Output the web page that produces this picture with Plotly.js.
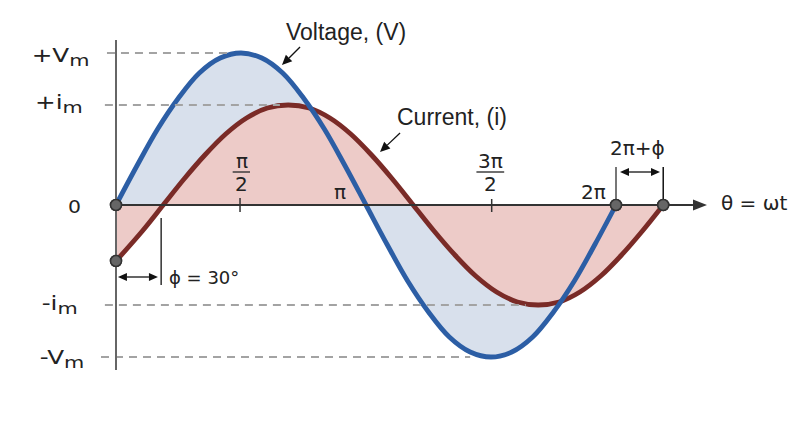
<!DOCTYPE html>
<html><head><meta charset="utf-8">
<script src="https://cdn.plot.ly/plotly-3.0.1.min.js"></script>
<style>html,body{margin:0;padding:0;background:#fff}#chart{width:809px;height:430px}</style>
</head><body><div id="chart"></div>
<script>
// angles in degrees (theta = omega t)
const voltageTheta = [0,15,30,45,60,75,90,105,120,135,150,165,180,195,210,225,240,255,270,285,300,315,330,345,360];
const voltageValues = [0,0.39,0.76,1.07,1.32,1.47,1.52,1.47,1.32,1.07,0.76,0.39,0,-0.39,-0.76,-1.07,-1.32,-1.47,-1.52,-1.47,-1.32,-1.07,-0.76,-0.39,0];
const currentTheta = [0,19,34,49,64,79,94,109,124,139,154,169,184,199,214,229,244,259,274,289,304,319,334,349,364,379,394];
const currentValues = [-0.56,-0.26,0,0.26,0.5,0.71,0.87,0.97,1.0,0.97,0.87,0.71,0.5,0.26,0,-0.26,-0.5,-0.71,-0.87,-0.97,-1.0,-0.97,-0.87,-0.71,-0.5,-0.26,0];
const pointTheta = [0,0,360,394];
const pointValues = [0,-0.56,0,0];
const levelLabels = ['+V<sub><span style="font-size:16px">m</span></sub>','+i<sub><span style="font-size:16px">m</span></sub>','0','-i<sub><span style="font-size:16px">m</span></sub>','-V<sub><span style="font-size:16px">m</span></sub>'];
const Vm = 1.52, Im = 1.0, phaseEnd = 394, phiMark = 32.5;

const XR = [-83.52,498.96], YR = [-2.25,2.05];
const SX = 809/(XR[1]-XR[0]), SY = 430/(YR[1]-YR[0]);

const SANS = 'DejaVu Sans, Verdana, sans-serif';
const ARIAL = 'Liberation Sans, Arial, sans-serif';
const txt = (x,y,text,opt={}) => Object.assign({x,y,xref:'x',yref:'y',text,showarrow:false,
  font:{family:SANS,size:20,color:'#222'},xanchor:'center',yanchor:'middle'},opt);

// arrow = line + filled triangular head (head size in pixels)
function head(tx,ty,fx,fy,len,hw,color){
  let dx=(tx-fx)*SX, dy=-(ty-fy)*SY; const n=Math.hypot(dx,dy); dx/=n; dy/=n;
  const bx=-dx*len, by=-dy*len, px=-dy*hw, py=dx*hw;
  const p1=[tx+(bx+px)/SX, ty-(by+py)/SY], p2=[tx+(bx-px)/SX, ty-(by-py)/SY];
  const base=[tx+bx/SX, ty-by/SY];
  return {shape:{type:'path',xref:'x',yref:'y',path:`M ${tx},${ty} L ${p1[0]},${p1[1]} L ${p2[0]},${p2[1]} Z`,
    fillcolor:color,line:{width:0}}, base};
}
function arrow(fx,fy,tx,ty,opt={}){
  const len=opt.len||9, hw=opt.hw||4, c=opt.color||'#111', w=opt.width||1.3;
  const out=[]; let s=[fx,fy], e=[tx,ty];
  const h1=head(tx,ty,fx,fy,len,hw,c); out.push(h1.shape); e=h1.base;
  if(opt.both){const h2=head(fx,fy,tx,ty,len,hw,c); out.push(h2.shape); s=h2.base;}
  out.push({type:'line',xref:'x',yref:'y',x0:s[0],y0:s[1],x1:e[0],y1:e[1],line:{color:c,width:w}});
  return out;
}

const traces = [
  {x:voltageTheta,y:voltageValues,type:'scatter',mode:'lines',line:{width:0,shape:'spline'},fill:'tozeroy',fillcolor:'#d8e0ec',hoverinfo:'skip'},
  {x:currentTheta,y:currentValues,type:'scatter',mode:'lines',line:{width:0,shape:'spline'},fill:'tozeroy',fillcolor:'#edcbc8',hoverinfo:'skip'},
  {x:currentTheta,y:currentValues,type:'scatter',mode:'lines',line:{width:4.8,color:'#7a2b27',shape:'spline'},hoverinfo:'skip'},
  {x:voltageTheta,y:voltageValues,type:'scatter',mode:'lines',line:{width:4.8,color:'#2c5ea5',shape:'spline'},hoverinfo:'skip'},
  {x:pointTheta,y:pointValues,type:'scatter',mode:'markers',marker:{size:11,color:'#666',line:{color:'#333',width:1.5}},hoverinfo:'skip'}
];

const dash = (x0,x1,y) => ({type:'line',xref:'x',yref:'y',x0,x1,y0:y,y1:y,line:{color:'#a3a3a3',width:1.8,dash:'8px,6px'}});
const vline = (x,y0,y1,c,w) => ({type:'line',xref:'x',yref:'y',x0:x,x1:x,y0,y1,line:{color:c,width:w}});
const bar = (x0,x1,y) => ({type:'line',xref:'x',yref:'y',x0,x1,y0:y,y1:y,line:{color:'#333',width:1.4}});

const shapes = [
  dash(-6.5,82,Vm), dash(-8,118,Im), dash(-8,295,-Im), dash(-10.8,255,-Vm),
  vline(0,1.65,-1.65,'#666',2),
  ...arrow(0,0,425.5,0,{len:14,hw:5.5,color:'#333',width:2}),
  vline(89.3,0.07,-0.07,'#333',1.5), vline(270.5,0.06,-0.07,'#333',1.5),
  vline(phiMark,-0.13,-0.8,'#111',1.3),
  vline(360,0.06,0.38,'#777',2), vline(phaseEnd,0.06,0.38,'#111',1.5),
  bar(84,96.5,0.33), bar(259.5,279.5,0.33),
  ...arrow(1.4,-0.72,30.2,-0.72,{both:true,len:9,hw:4}),
  ...arrow(362.9,0.33,391.7,0.33,{both:true,len:9,hw:4}),
  ...arrow(132.5,1.58,119.5,1.40,{len:10,hw:4.5}),
  ...arrow(204.5,0.72,190.1,0.53,{len:10,hw:4.5}),
  ...pointTheta.map((t,i)=>({type:'circle',xref:'x',yref:'y',xsizemode:'pixel',ysizemode:'pixel',
     xanchor:t,yanchor:pointValues[i],x0:-5.5,x1:5.5,y0:-5.5,y1:5.5,fillcolor:'#666',line:{color:'#333',width:1.5}}))
];

const annotations = [
  txt(-17.3,1.48,levelLabels[0],{xanchor:'right',font:{family:SANS,size:19,color:'#222'}}),
  txt(-22.3,1.01,levelLabels[1],{xanchor:'right',font:{family:SANS,size:19,color:'#222'}}),
  txt(-30.2,-0.02,levelLabels[2],{font:{family:SANS,size:17,color:'#222'}}),
  txt(-25.9,-1.0,levelLabels[3],{xanchor:'right',font:{family:SANS,size:19,color:'#222'}}),
  txt(-21.6,-1.54,levelLabels[4],{xanchor:'right',font:{family:SANS,size:19,color:'#222'}}),
  txt(90.7,0.44,'π'), txt(90.7,0.21,'2'),
  txt(161.3,0.13,'π'),
  txt(269.3,0.44,'3π'), txt(269.3,0.21,'2'),
  txt(344,0.13,'2π'),
  txt(375.8,0.57,'2π+ϕ'),
  txt(459,0.02,'θ = ωt'),
  txt(63.4,-0.72,'ϕ = 30°',{font:{family:SANS,size:18,color:'#222'}}),
  txt(165.6,1.73,'Voltage, (V)',{font:{family:ARIAL,size:23,color:'#222'}}),
  txt(241.9,0.88,'Current, (i)',{font:{family:ARIAL,size:23,color:'#222'}})
];
const stretch = {0:1.3,1:1.3,2:1.2,3:1.3,4:1.3};

const layout = {
  width:809,height:430,margin:{l:0,r:0,t:0,b:0},
  paper_bgcolor:'#fff',plot_bgcolor:'#fff',showlegend:false,
  xaxis:{range:XR,visible:false,fixedrange:true},
  yaxis:{range:YR,visible:false,fixedrange:true},
  shapes, annotations
};
Plotly.newPlot('chart',traces,layout,{staticPlot:true,displayModeBar:false}).then(()=>{
  document.querySelectorAll('g.annotation').forEach(g=>{
    const i=+g.getAttribute('data-index'); const s=stretch[i]; if(!s) return;
    const t=g.querySelector('text.annotation-text'); if(!t) return;
    t.style.transformBox='fill-box';
    t.style.transformOrigin=(annotations[i].xanchor==='right'?'right':'center')+' center';
    t.style.transform='scaleX('+s+')';
  });
});
</script></body></html>
